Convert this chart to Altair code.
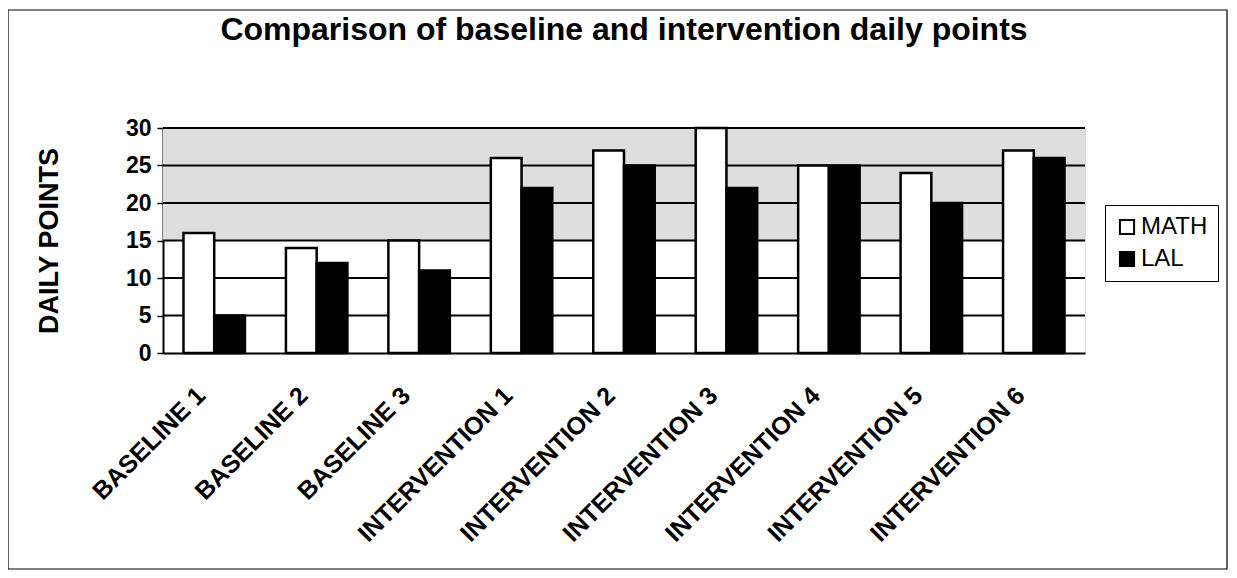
import altair as alt
import pandas as pd

categories = ["BASELINE 1", "BASELINE 2", "BASELINE 3", "INTERVENTION 1", "INTERVENTION 2",
              "INTERVENTION 3", "INTERVENTION 4", "INTERVENTION 5", "INTERVENTION 6"]
math_vals = [16, 14, 15, 26, 27, 30, 25, 24, 27]
lal_vals = [5, 12, 11, 22, 25, 22, 25, 20, 26]
series = ["MATH", "LAL"]
y_ticks = [0, 5, 10, 15, 20, 25, 30]
shade_band = [15, 30]

rows = []
for c, m, l in zip(categories, math_vals, lal_vals):
    rows.append({"cat": c, "series": "MATH", "value": m})
    rows.append({"cat": c, "series": "LAL", "value": l})
df = pd.DataFrame(rows)

W, H = 922, 225
FONT = "Liberation Sans"

xscale = alt.Scale(domain=categories, paddingInner=0.4, paddingOuter=0.2)
yscale = alt.Scale(domain=[0, 30], nice=False)
yaxis = alt.Axis(values=y_ticks, grid=False, labelOverlap=False, labelFont=FONT,
                 labelFontSize=23, labelFontWeight="bold", labelColor="black",
                 tickColor="black", tickSize=6, tickWidth=1.5, domainColor="black",
                 domainWidth=2, titleFont=FONT, titleFontSize=27, titleFontWeight="bold",
                 titleColor="black", titlePadding=62, labelPadding=6)
YTITLE = "DAILY POINTS"

band = alt.Chart(pd.DataFrame({"y": [shade_band[0]], "y2": [shade_band[1]]})).mark_rect(
    color="#dedede"
).encode(
    y=alt.Y("y:Q", scale=yscale, axis=yaxis, title=YTITLE),
    y2="y2:Q",
)

grid = alt.Chart(pd.DataFrame({"g": y_ticks[1:]})).mark_rule(color="black", strokeWidth=1.8).encode(
    y=alt.Y("g:Q", scale=yscale, axis=yaxis, title=YTITLE)
)

bars = alt.Chart(df).mark_bar(stroke="black", strokeWidth=2.5).encode(
    x=alt.X("cat:N", scale=xscale, sort=categories, title=None,
            axis=alt.Axis(labelAngle=-45, labelAlign="right", labelBaseline="middle",
                          labelFont=FONT, labelFontSize=25, labelFontWeight="bold",
                          labelColor="black", ticks=False, labelPadding=38, labelOffset=-13,
                          domainColor="black", domainWidth=2, labelLimit=400)),
    xOffset=alt.XOffset("series:N", sort=series, scale=alt.Scale(paddingInner=0, paddingOuter=0)),
    y=alt.Y("value:Q", scale=yscale, axis=yaxis, title=YTITLE),
    color=alt.Color("series:N", sort=series,
                    scale=alt.Scale(domain=series, range=["white", "black"]),
                    legend=alt.Legend(title=None, orient="none", legendX=942, legendY=77,
                                      symbolType="square", symbolSize=200,
                                      symbolStrokeColor="black", symbolStrokeWidth=2,
                                      labelFont=FONT, labelFontSize=24, labelFontWeight="normal",
                                      labelColor="black", strokeColor="black",
                                      padding=10, rowPadding=8, labelOffset=2)),
)

frame = alt.Chart(pd.DataFrame({"a": [0]})).mark_rect(
    fill=None, stroke="black", strokeWidth=1.2
).encode(
    x=alt.value(-155), x2=alt.value(W + 142),
    y=alt.value(-118), y2=alt.value(H + 216),
)

chart = alt.layer(band, grid, bars, frame).properties(
    width=W, height=H,
    title=alt.TitleParams("Comparison of baseline and intervention daily points",
                          font=FONT, fontSize=32, fontWeight="bold", color="black",
                          anchor="middle", offset=0, baseline="alphabetic", dy=63),
    padding={"left": 155, "top": 120, "right": 144, "bottom": 217},
    autosize=alt.AutoSizeParams(type="none"),
).configure_view(stroke="black", strokeWidth=2).configure(background="white")

chart.save("out.html", embed_options={"renderer": "svg", "actions": False})
